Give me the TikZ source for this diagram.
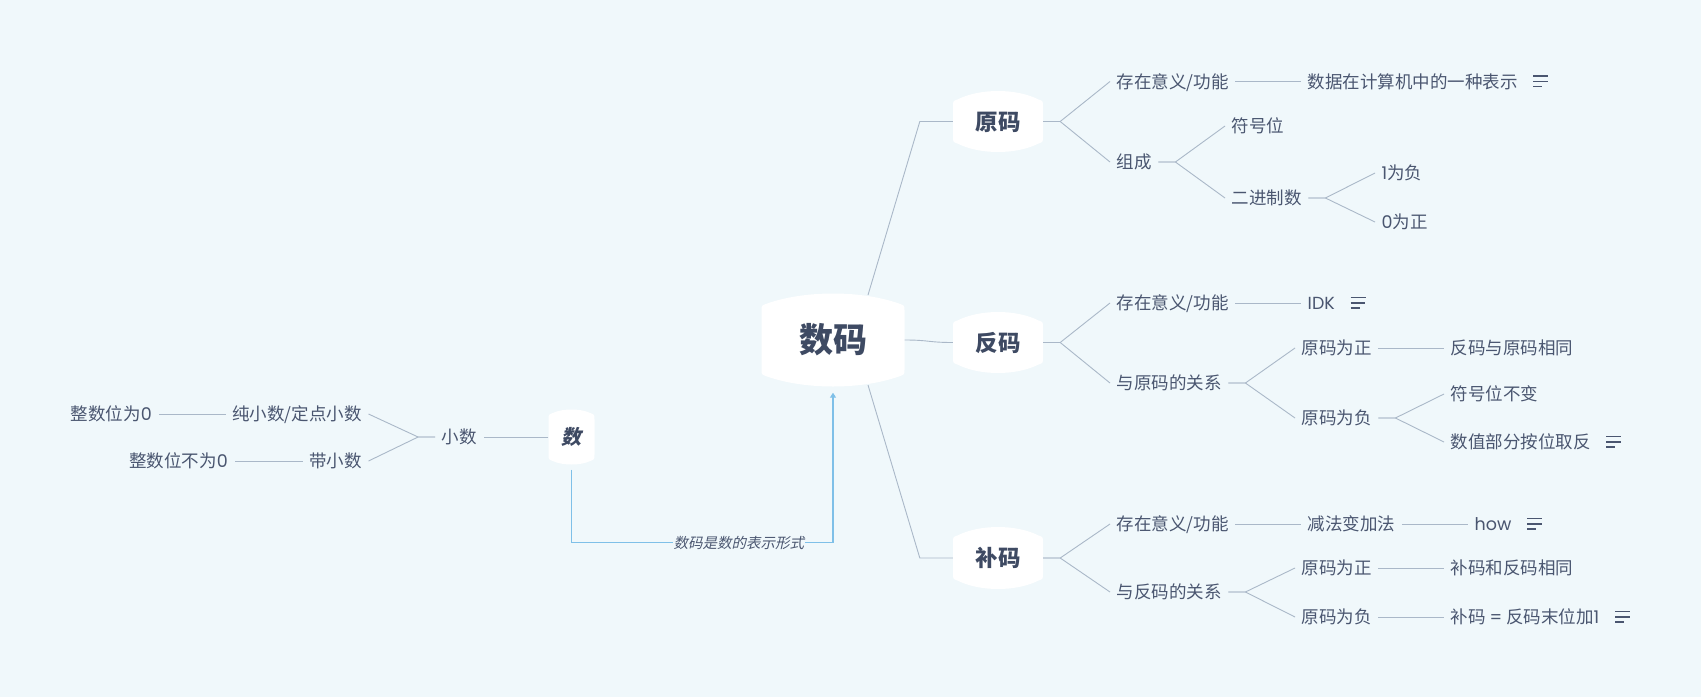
\documentclass[tikz,border=0pt]{standalone}
\usepackage{fontspec}
\setmainfont{Noto Sans CJK SC}
\newfontfamily\lat{Poppins}
\newfontfamily\cjkslant[FakeSlant=0.22]{Noto Sans CJK SC}
\usetikzlibrary{calc,arrows.meta}
\definecolor{bg}{HTML}{F0F8FB}
\definecolor{edgec}{HTML}{AAB8C8}
\definecolor{txt}{HTML}{4A5670}
\definecolor{head}{HTML}{3E4A63}
\definecolor{rel}{HTML}{7FC0E8}
% cx cy w h b : white barrel-shaped topic background
\newcommand\barrel[5]{%
 \fill[white] ({#1-#3/2},{#2+#4/2-#5-5}) -- ({#1-#3/2},{#2-#4/2+#5+5})
 .. controls ({#1-#3/2},{#2-#4/2+#5}) .. ({#1-#3/2+5},{#2-#4/2+#5-1.75})
 .. controls ({#1-0.2*#3},{#2-#4/2-(#5-1.75)/3}) and ({#1+0.2*#3},{#2-#4/2-(#5-1.75)/3}) .. ({#1+#3/2-5},{#2-#4/2+#5-1.75})
 .. controls ({#1+#3/2},{#2-#4/2+#5}) .. ({#1+#3/2},{#2-#4/2+#5+5})
 -- ({#1+#3/2},{#2+#4/2-#5-5})
 .. controls ({#1+#3/2},{#2+#4/2-#5}) .. ({#1+#3/2-5},{#2+#4/2-#5+1.75})
 .. controls ({#1+0.2*#3},{#2+#4/2+(#5-1.75)/3}) and ({#1-0.2*#3},{#2+#4/2+(#5-1.75)/3}) .. ({#1-#3/2+5},{#2+#4/2-#5+1.75})
 .. controls ({#1-#3/2},{#2+#4/2-#5}) .. ({#1-#3/2},{#2+#4/2-#5-5}) -- cycle;}
\newcommand\notes[1]{%
 \draw[icon] ($(#1.east)+(9,-5.5)$) -- ++(15,0)
  ($(#1.east)+(9,0)$) -- ++(14.5,0)
  ($(#1.east)+(9,5)$) -- ++(9,0);}
\newcommand\branchR[2]{\draw[conn] (#1.east) -- ++(17,0) -- (#2.west);}
\newcommand\branchL[2]{\draw[conn] (#1.west) -- ++(-17,0) -- (#2.east);}
\tikzset{
 conn/.style={draw=edgec, line width=0.9pt},
 icon/.style={draw=txt, line width=1.1pt},
 rellink/.style={draw=rel, line width=1.2pt, -{Triangle[width=6pt,length=5pt]}},
 leaf/.style={inner xsep=6.5pt, inner ysep=0pt, text height=15.4pt, text depth=2.1pt,
   font=\fontsize{17.5}{20}\selectfont, text=txt},
 lw/.style={leaf, anchor=west},
 le/.style={leaf, anchor=east},
 topic/.style={inner sep=0pt, text=head},
 big/.style={topic, text height=29.9pt, text depth=4.1pt, font=\fontsize{34}{38}\selectfont\bfseries},
 mid/.style={topic, text height=19.8pt, text depth=2.7pt, minimum width=90pt, font=\fontsize{22.5}{26}\selectfont\bfseries},
 small/.style={topic, text height=17.6pt, text depth=2.4pt, font=\fontsize{20}{24}\cjkslant\bfseries},
}
\begin{document}
\begin{tikzpicture}[x=1pt,y=-1pt]
\fill[bg] (0,0) rectangle (1701,697);
\useasboundingbox (0,0) rectangle (1701,697);
% topic backgrounds
\barrel{833}{340}{143}{93}{12}
\barrel{998}{121.5}{90}{61}{10}
\barrel{998}{342.5}{90}{61}{10}
\barrel{998}{558}{90}{62}{10}
\barrel{571.5}{437}{46}{55}{5}
% topics
\node[big, minimum width=143pt, minimum height=93pt] (shuma) at (833,340) {数码};
\node[mid, minimum height=61pt] (yuanma) at (998,121.5) {原码};
\node[mid, minimum height=61pt] (fanma) at (998,342.5) {反码};
\node[mid, minimum height=62pt] (buma) at (998,558) {补码};
\node[small, minimum width=46pt, minimum height=55pt] (shu) at (571.5,437) {数};
% main connectors
\draw[conn] ($(shuma.center)+(35,-45)$) -- ($(yuanma.west)+(-33,0)$) -- (yuanma.west);
\draw[conn] (shuma.east) .. controls +(25,0) and +(-25,0) .. (fanma.west);
\draw[conn] ($(shuma.center)+(35,45)$) -- ($(buma.west)+(-33,0)$) -- (buma.west);
% 原码 subtree
\node[lw] (y1) at (1110,81.5) {存在意义/功能};
\node[lw] (y2) at (1110,162) {组成};
\node[lw] (y1a) at (1301,81.5) {数据在计算机中的一种表示};
\node[lw] (y2a) at (1225,126) {符号位};
\node[lw] (y2b) at (1225,198) {二进制数};
\node[lw] (y2b1) at (1375,173) {{\lat 1}为负};
\node[lw] (y2b2) at (1375,222) {{\lat 0}为正};
\branchR{yuanma}{y1}\branchR{yuanma}{y2}
\draw[conn] (y1.east) -- (y1a.west);
\branchR{y2}{y2a}\branchR{y2}{y2b}
\branchR{y2b}{y2b1}\branchR{y2b}{y2b2}
\notes{y1a}
% 反码 subtree
\node[lw] (f1) at (1110,303) {存在意义/功能};
\node[lw] (f1a) at (1301,303) {\lat IDK};
\node[lw] (f2) at (1110,383) {与原码的关系};
\node[lw] (f2a) at (1295,348) {原码为正};
\node[lw] (f2b) at (1295,418) {原码为负};
\node[lw] (f2a1) at (1444,348) {反码与原码相同};
\node[lw] (f2b1) at (1444,394) {符号位不变};
\node[lw] (f2b2) at (1444,442) {数值部分按位取反};
\branchR{fanma}{f1}\branchR{fanma}{f2}
\draw[conn] (f1.east) -- (f1a.west);
\branchR{f2}{f2a}\branchR{f2}{f2b}
\draw[conn] (f2a.east) -- (f2a1.west);
\branchR{f2b}{f2b1}\branchR{f2b}{f2b2}
\notes{f1a}\notes{f2b2}
% 补码 subtree
\node[lw] (b1) at (1110,524) {存在意义/功能};
\node[lw] (b1a) at (1301,524) {减法变加法};
\node[lw] (b1a1) at (1468,524) {\lat how};
\node[lw] (b2) at (1110,592) {与反码的关系};
\node[lw] (b2a) at (1295,568) {原码为正};
\node[lw] (b2b) at (1295,617) {原码为负};
\node[lw] (b2a1) at (1444,568) {补码和反码相同};
\node[lw] (b2b1) at (1444,617) {补码 {\lat =} 反码末位加{\lat 1}};
\branchR{buma}{b1}\branchR{buma}{b2}
\draw[conn] (b1.east) -- (b1a.west);
\draw[conn] (b1a.east) -- (b1a1.west);
\branchR{b2}{b2a}\branchR{b2}{b2b}
\draw[conn] (b2a.east) -- (b2a1.west);
\draw[conn] (b2b.east) -- (b2b1.west);
\notes{b1a1}\notes{b2b1}
% 数 subtree (left)
\node[le] (xs) at (483.5,437) {小数};
\node[le] (c1) at (368.5,414) {纯小数/定点小数};
\node[le] (c2) at (368.5,461) {带小数};
\node[le] (c1a) at (158.5,414) {整数位为{\lat 0}};
\node[le] (c2a) at (234.5,461) {整数位不为{\lat 0}};
\draw[conn] (shu.west) -- (xs.east);
\branchL{xs}{c1}\branchL{xs}{c2}
\draw[conn] (c1.west) -- (c1a.east);
\draw[conn] (c2.west) -- (c2a.east);
% relationship
\draw[rellink] ($(shu.south)+(0,5)$) |- ($(shuma.south)+(0,156)$)
  node[pos=0.82, fill=bg, inner xsep=1pt, inner ysep=1pt, text=txt, font=\fontsize{14.5}{16}\cjkslant] (rl) {数码是数的表示形式}
  -- ($(shuma.south)+(0,6)$);
\end{tikzpicture}
\end{document}
